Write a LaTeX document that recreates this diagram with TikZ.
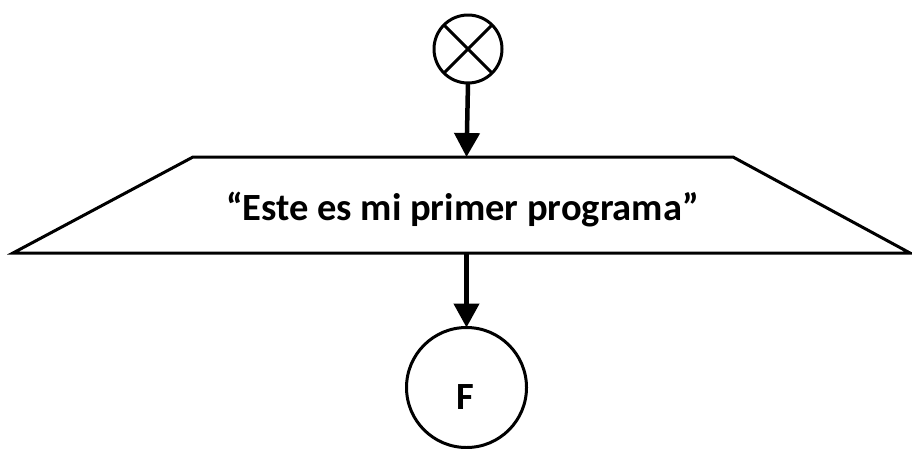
\documentclass[tikz,border=0pt]{standalone}
\usepackage{fontspec}
\setmainfont{Carlito}
\usetikzlibrary{arrows.meta}
\begin{document}
\begin{tikzpicture}[x=1pt,y=-1pt,
  conn/.style={line width=4.5pt,-{Triangle[length=24pt,width=25pt]}},
  startnode/.style={circle,draw,line width=3pt,minimum size=68pt,inner sep=0pt,outer sep=0pt},
  endnode/.style={circle,draw,line width=3pt,minimum size=120pt,inner sep=0pt,outer sep=0pt},
  border/.style={line width=3pt,line join=miter},
  lbl/.style={font=\bfseries\fontsize{38.5}{44}\selectfont,inner sep=0pt}]
\useasboundingbox (0,0) rectangle (912,448);
\node[startnode] (start) at (468,49) {};
\draw[line width=3pt] (start.north west) -- (start.south east) (start.north east) -- (start.south west);
\coordinate (tl) at (193,157);
\coordinate (tr) at (733,157);
\coordinate (br) at (910,253);
\coordinate (bl) at (13,253);
\draw[border] (tl) -- (tr) -- (br) -- (bl) -- cycle;
\node[lbl] (io) at (462.5,210) {“Este es mi primer programa”};
\node[endnode] (fin) at (466.5,387.5) {};
\node[lbl] (F) at (465.5,397.5) {F};
\coordinate (iot) at (466.5,157);
\coordinate (iob) at (466.5,253);
\draw[conn] (start.south) -- (iot);
\draw[conn] (iob) -- (fin.north);
\end{tikzpicture}
\end{document}
